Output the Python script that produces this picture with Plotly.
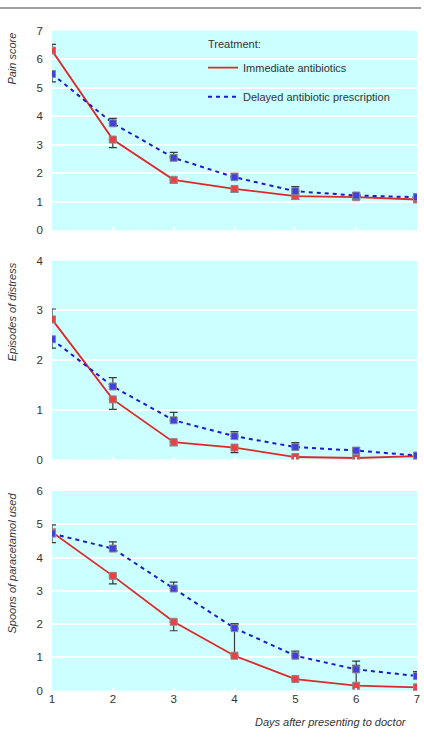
import plotly.graph_objects as go

days = [1, 2, 3, 4, 5, 6, 7]
x_tick_labels = ["1", "2", "3", "4", "5", "6", "7"]

series_names = ["Immediate antibiotics", "Delayed antibiotic prescription"]
legend_title = "Treatment:"
x_title = "Days after presenting to doctor"
panel_titles = ["Pain score", "Episodes of distress", "Spoons of paracetamol used"]
panel_ymax = [7, 4, 6]

# Pain score
pain_immediate = [6.30, 3.18, 1.77, 1.45, 1.20, 1.16, 1.08]
pain_immediate_up = [0.22, 0, 0, 0, 0, 0, 0]
pain_immediate_down = [0, 0.28, 0.11, 0.11, 0.12, 0.08, 0.09]
pain_delayed = [5.48, 3.75, 2.54, 1.86, 1.37, 1.22, 1.16]
pain_delayed_up = [0, 0.17, 0.19, 0.14, 0.16, 0.09, 0.11]
pain_delayed_down = [0.28, 0, 0, 0, 0, 0, 0]

# Episodes of distress
distress_immediate = [2.82, 1.21, 0.35, 0.24, 0.05, 0.03, 0.07]
distress_immediate_up = [0.21, 0, 0, 0, 0, 0, 0]
distress_immediate_down = [0, 0.20, 0.07, 0.10, 0, 0, 0]
distress_delayed = [2.42, 1.47, 0.79, 0.47, 0.25, 0.18, 0.08]
distress_delayed_up = [0, 0.18, 0.16, 0.09, 0.09, 0.06, 0]
distress_delayed_down = [0.18, 0, 0, 0, 0, 0, 0]

# Spoons of paracetamol used
spoons_immediate = [4.76, 3.45, 2.07, 1.05, 0.35, 0.15, 0.10]
spoons_immediate_up = [0.22, 0, 0, 0.96, 0, 0.74, 0]
spoons_immediate_down = [0, 0.24, 0.27, 0, 0, 0, 0]
spoons_delayed = [4.72, 4.27, 3.07, 1.88, 1.05, 0.64, 0.44]
spoons_delayed_up = [0, 0.20, 0.19, 0.13, 0.14, 0.12, 0.13]
spoons_delayed_down = [0.27, 0, 0, 0, 0, 0, 0]

panels = [
    (pain_immediate, pain_immediate_up, pain_immediate_down,
     pain_delayed, pain_delayed_up, pain_delayed_down),
    (distress_immediate, distress_immediate_up, distress_immediate_down,
     distress_delayed, distress_delayed_up, distress_delayed_down),
    (spoons_immediate, spoons_immediate_up, spoons_immediate_down,
     spoons_delayed, spoons_delayed_up, spoons_delayed_down),
]

W, H = 424, 738
# panel pixel extents (top, bottom)
panel_px = [(25, 228), (259, 461), (493, 696)]
domains = [[1 - b / H, 1 - t / H] for t, b in panel_px]

RED = "#dc2a2a"
BLUE = "#1c1ccc"
RED_FILL = "#ec4044"
BLUE_FILL = "#4040dd"
EDGE = "#8a8a8a"
ERR = "#3a3a3a"
BG = "#ccffff"
TXT = "#333333"
FONT = "Liberation Sans, Arial, sans-serif"

fig = go.Figure()

for i, (ri, ru, rd, di, du, dd) in enumerate(panels):
    xa = "x" if i == 0 else f"x{i+1}"
    ya = "y" if i == 0 else f"y{i+1}"
    fig.add_trace(go.Scatter(
        x=days, y=ri, xaxis=xa, yaxis=ya, mode="lines+markers",
        name=series_names[0], showlegend=False,
        line=dict(color=RED, width=1.8),
        marker=dict(symbol="square", size=7, color=RED_FILL,
                    line=dict(color=EDGE, width=1)),
        error_y=dict(type="data", symmetric=False, array=ru, arrayminus=rd,
                     color=ERR, thickness=1.2, width=4),
    ))
    fig.add_trace(go.Scatter(
        x=days, y=di, xaxis=xa, yaxis=ya, mode="lines+markers",
        name=series_names[1], showlegend=False,
        line=dict(color=BLUE, width=2, dash="4px,4px"),
        marker=dict(symbol="square", size=7, color=BLUE_FILL,
                    line=dict(color=EDGE, width=1)),
        error_y=dict(type="data", symmetric=False, array=du, arrayminus=dd,
                     color=ERR, thickness=1.2, width=4),
    ))

# legend entries (line samples only)
fig.add_trace(go.Scatter(x=[None], y=[None], mode="lines", name=series_names[0],
                         legendgroup="a", line=dict(color=RED, width=1.8)))
fig.add_trace(go.Scatter(x=[None], y=[None], mode="lines", name=series_names[1],
                         legendgroup="b", line=dict(color=BLUE, width=2, dash="4px,4px")))

layout = dict(
    width=W, height=H,
    margin=dict(l=52, r=7, t=0, b=0),
    paper_bgcolor="white",
    plot_bgcolor=BG,
    font=dict(family=FONT, size=11, color=TXT),
    showlegend=True,
    legend=dict(
        x=(203 - 52) / 365, xanchor="left",
        y=1 - 48 / H, yanchor="top",
        bgcolor="rgba(0,0,0,0)",
        itemwidth=30,
        tracegroupgap=10,
        font=dict(size=11, color=TXT),
    ),
)

for i in range(3):
    xk = "xaxis" if i == 0 else f"xaxis{i+1}"
    yk = "yaxis" if i == 0 else f"yaxis{i+1}"
    ya = "y" if i == 0 else f"y{i+1}"
    layout[xk] = dict(
        domain=[0, 1], range=[1, 7], anchor=ya,
        tickvals=days, ticktext=x_tick_labels,
        showticklabels=(i == 2), showgrid=False, zeroline=False,
        ticks="inside", ticklen=3, tickcolor="white", tickwidth=1.5,
        tickfont=dict(size=11.5, color=TXT), showline=False,
    )
    layout[yk] = dict(
        domain=domains[i], range=[0, panel_ymax[i]], anchor="x" if i == 0 else f"x{i+1}",
        dtick=1, showgrid=True, gridcolor="white", gridwidth=2,
        zeroline=False, showline=False, ticks="", ticklabelstandoff=8,
        tickfont=dict(size=11.5, color=TXT),
    )

fig.update_layout(**layout)

annotations = []
for i, t in enumerate(panel_titles):
    yref = "y domain" if i == 0 else f"y{i+1} domain"
    annotations.append(dict(
        text=f"<i>{t}</i>", xref="paper", yref=yref,
        x=(12 - 52) / 365, y=1.0, xanchor="center", yanchor="top",
        textangle=-90, showarrow=False, font=dict(size=11, color=TXT),
    ))
annotations.append(dict(
    text=f"<i>{x_title}</i>", xref="paper", yref="paper",
    x=(409 - 52) / 365, y=1 - 728 / H, xanchor="right", yanchor="middle",
    showarrow=False, font=dict(size=11, color=TXT),
))
annotations.append(dict(
    text=legend_title, xref="paper", yref="paper",
    x=(206 - 52) / 365, y=1 - 39 / H, xanchor="left", yanchor="middle",
    showarrow=False, font=dict(size=11, color=TXT),
))
fig.update_layout(annotations=annotations)

fig.add_shape(type="line", xref="paper", yref="paper",
              x0=-52 / 365, x1=(421 - 52) / 365, y0=1 - 2 / H, y1=1 - 2 / H,
              line=dict(color="#a0a0a0", width=2))

fig.write_html("out.html", config={"displayModeBar": False},
               post_script="document.body.style.margin='0px';")
